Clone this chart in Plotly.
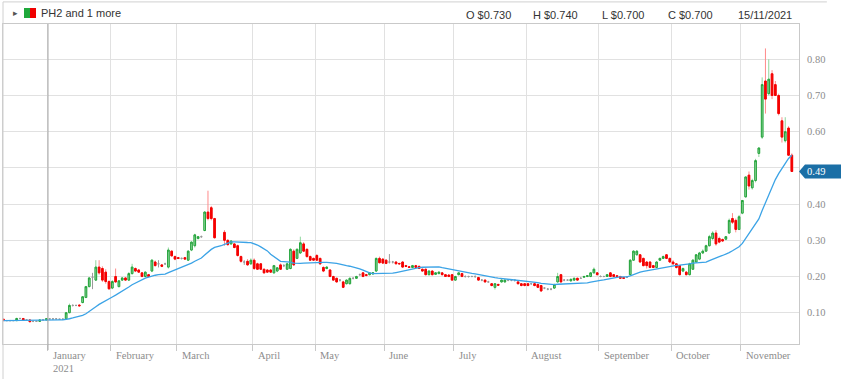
import pandas as pd
import plotly.graph_objects as go

# ---------------- data ----------------
holidays = ["2020-12-25", "2020-12-28", "2021-01-01", "2021-01-26",
            "2021-04-02", "2021-04-05", "2021-04-26", "2021-06-14"]
dates = [d for d in pd.bdate_range("2020-12-10", "2021-11-22")
         if d.strftime("%Y-%m-%d") not in holidays]

opens = [
    .082, .078, .078, .078, .078, .084, .084, .080, .080, .076, .076, .076, .080, .080,  # Dec
    .083, .083, .083, .082, .082, .083, .100, .120, .120, .121, .128, .142, .172, .198, .190, .226, .222, .212, .186,  # Jan
    .168, .200, .172, .190, .196, .190, .208, .222, .218, .210, .200, .205, .215, .240, .235, .232, .235, .226, .270, .255,  # Feb
    .252, .250, .252, .245, .273, .285, .305, .310, .327, .378, .390, .360, None, None, .322, .300, .290, .290, .285, .255, .240, .242, .235,  # Mar
    .245, .235, .235, .220, .218, .218, .210, .215, .232, .230, .220, .222, .270, .250, .265, .290, .275, .255, .250,  # Apr
    .258, .250, .225, .222, .218, .200, .195, .190, .185, .180, .180, .195, .195, .205, .210, .205, .205, .207, .215, .250, .248,  # May
    .245, .240, .240, .240, .236, .240, .230, .227, .225, .230, .228, .220, .220, .205, .215, .206, .208, .210, .205, .204, .205,  # Jun
    .190, .205, .208, .200, .200, .200, .200, .197, .190, .190, .185, .180, .170, .178, .185, .185, .190, .190, .190, .185, .180, .180,  # Jul
    .180, .180, .180, .178, .175, .168, .165, .165, .168, .185, .205, .190, .190, .188, .190, .195, .195, .198, .200, .200, .210, .210,  # Aug
    .200, .200, .200, .210, .205, .202, .200, .197, .198, .205, .245, .260, .260, .250, .240, .240, .230, .225, .245, .250, .260, .250,  # Sep
    .240, .235, .230, .215, .212, .205, .220, .240, .248, .265, .270, .285, .305, .320, .305, .302, .303, .320, .360, .355, .330,  # Oct
    .375, .420, .480, .445, .465, .540, .585, .740, .705, .760, .730, .700, .630, .575, .610, .535,  # Nov
]
highs = [
    .083, .080, .080, .079, .086, .086, .085, .082, .080, .078, .078, .081, .082, .085,
    .084, .083, .084, .083, .084, .102, .125, .123, .122, .123, .146, .174, .198, .210, .245, .245, .228, .220, .190,
    .190, .222, .190, .198, .198, .212, .235, .225, .220, .212, .214, .207, .248, .244, .245, .234, .238, .280, .272, .258,
    .254, .252, .254, .272, .297, .318, .312, .313, .380, .437, .395, .362, None, None, .328, .302, .300, .292, .288, .258, .245, .248, .250,
    .250, .238, .237, .222, .220, .220, .232, .226, .236, .234, .238, .278, .275, .278, .310, .295, .278, .258, .252,
    .262, .252, .228, .228, .220, .202, .197, .193, .188, .192, .197, .198, .202, .208, .212, .207, .212, .212, .252, .255, .250,
    .248, .262, .243, .242, .238, .242, .232, .229, .232, .232, .230, .222, .222, .217, .217, .212, .214, .212, .207, .206, .207,
    .202, .212, .210, .203, .202, .202, .203, .199, .193, .192, .188, .182, .182, .180, .192, .192, .193, .192, .192, .187, .182, .182,
    .182, .182, .182, .180, .177, .170, .168, .167, .180, .210, .207, .193, .192, .195, .197, .197, .198, .202, .204, .212, .225, .212,
    .203, .202, .207, .212, .207, .204, .202, .199, .200, .248, .272, .272, .262, .252, .242, .242, .232, .242, .252, .258, .262, .252,
    .245, .237, .232, .225, .215, .238, .248, .262, .268, .275, .288, .315, .325, .328, .310, .305, .312, .360, .375, .360, .370,
    .410, .475, .490, .470, .525, .555, .750, .830, .800, .770, .740, .705, .640, .640, .615, .540,
]
lows = [
    .078, .077, .077, .077, .078, .082, .080, .079, .074, .074, .075, .076, .079, .079,
    .081, .081, .082, .080, .081, .082, .099, .117, .118, .118, .126, .140, .170, .165, .188, .205, .185, .180, .163,
    .165, .182, .170, .188, .188, .188, .205, .212, .210, .198, .198, .198, .212, .228, .225, .226, .232, .222, .255, .245,
    .248, .247, .246, .243, .270, .280, .302, .307, .325, .355, .355, .305, None, None, .285, .285, .288, .278, .255, .238, .232, .230, .232,
    .218, .218, .218, .208, .210, .210, .208, .212, .218, .226, .218, .220, .230, .248, .262, .268, .252, .243, .243,
    .243, .232, .212, .220, .198, .188, .183, .186, .168, .178, .178, .192, .193, .202, .198, .200, .203, .205, .213, .236, .235,
    .234, .236, .236, .234, .233, .224, .226, .224, .223, .224, .221, .213, .203, .203, .203, .204, .206, .203, .199, .198, .188,
    .188, .203, .198, .197, .197, .198, .196, .188, .187, .183, .183, .173, .164, .174, .183, .183, .187, .187, .186, .178, .173, .173,
    .173, .177, .173, .168, .158, .165, .162, .162, .166, .183, .183, .187, .188, .186, .188, .188, .193, .196, .198, .198, .208, .203,
    .198, .198, .199, .198, .198, .198, .193, .193, .196, .203, .243, .258, .238, .228, .222, .223, .223, .223, .243, .248, .248, .238,
    .232, .222, .203, .212, .203, .203, .218, .238, .245, .262, .268, .283, .300, .285, .292, .296, .300, .318, .345, .322, .328,
    .372, .418, .440, .440, .460, .530, .580, .650, .700, .690, .700, .645, .570, .570, .535, .490,
]
closes = [
    .078, .078, .078, .078, .084, .084, .080, .080, .075, .076, .076, .080, .080, .083,
    .083, .083, .083, .082, .082, .100, .120, .120, .120, .119, .144, .172, .196, .198, .226, .210, .190, .186, .166,
    .186, .185, .188, .196, .190, .208, .226, .215, .212, .200, .212, .200, .245, .230, .235, .228, .235, .273, .257, .248,
    .250, .250, .248, .270, .295, .315, .310, .310, .378, .360, .360, .307, None, None, .300, .288, .298, .280, .258, .242, .240, .232, .245,
    .222, .220, .220, .210, .212, .212, .230, .224, .220, .230, .235, .275, .232, .275, .293, .270, .255, .245, .245,
    .245, .235, .215, .226, .200, .190, .185, .190, .170, .190, .195, .195, .200, .205, .200, .203, .210, .210, .250, .238, .237,
    .236, .240, .240, .235, .235, .226, .228, .225, .230, .225, .222, .215, .205, .215, .205, .210, .212, .205, .200, .200, .190,
    .200, .210, .200, .200, .200, .200, .200, .190, .190, .185, .185, .175, .180, .176, .190, .190, .190, .190, .190, .180, .175, .175,
    .175, .180, .175, .170, .160, .168, .165, .165, .178, .200, .185, .190, .190, .192, .195, .190, .195, .200, .202, .210, .220, .205,
    .200, .200, .205, .200, .200, .200, .195, .195, .198, .245, .270, .270, .240, .230, .230, .225, .225, .240, .250, .255, .250, .240,
    .235, .225, .205, .222, .205, .235, .245, .260, .265, .270, .285, .310, .320, .290, .295, .298, .310, .355, .350, .330, .365,
    .410, .475, .450, .465, .520, .555, .730, .690, .745, .700, .700, .650, .585, .600, .535, .490,
]

month_names = ["January", "February", "March", "April", "May", "June", "July",
               "August", "September", "October", "November"]
month_keys = ["2021-01", "2021-02", "2021-03", "2021-04", "2021-05", "2021-06",
              "2021-07", "2021-08", "2021-09", "2021-10", "2021-11"]
y_ticks = [0.10, 0.20, 0.30, 0.40, 0.50, 0.60, 0.70, 0.80]
header_fields = ["O $0.730", "H $0.740", "L $0.700", "C $0.700", "15/11/2021"]
ma_window = 20

# ---------------- derived ----------------
n = len(dates)
idx = list(range(n))
date_txt = [d.strftime("%d/%m/%Y") for d in dates]
ma = pd.Series([c if c is not None else float("nan") for c in closes]).rolling(ma_window, min_periods=1).mean()

valid = [i for i in idx if opens[i] is not None]
colored = [i for i in valid if opens[i] != closes[i]]
doji = [i for i in valid if opens[i] == closes[i]]

def pick(arr, sel):
    return [arr[i] for i in sel]

month_pos = []
for key in month_keys:
    first = next(i for i, d in enumerate(dates) if d.strftime("%Y-%m") == key)
    month_pos.append(first - 0.5)

last = closes[-1]
# tick labels that sit under the last-price marker are hidden, as in the reference
y_ticktext = ["" if abs(v - last) < 0.03 else f"{v:.2f}" for v in y_ticks]

GREEN = "#24a33b"
GREEN_FILL = "#9fdcab"
GREEN_WICK = "#8fd69c"
RED = "#f40000"
RED_WICK = "#ff8a8a"
GREY = "#9a9a9a"
GRID = "#e1e1e1"
AXIS = "#c9c9c9"
SERIF = "Liberation Serif"
SANS = "Liberation Sans"

fig = go.Figure()

# wicks (lighter colours)
fig.add_trace(go.Candlestick(
    x=pick(idx, colored), open=pick(opens, colored), high=pick(highs, colored),
    low=pick(lows, colored), close=pick(closes, colored),
    increasing=dict(line=dict(color=GREEN_WICK, width=1), fillcolor=GREEN_WICK),
    decreasing=dict(line=dict(color=RED_WICK, width=1), fillcolor=RED_WICK),
    whiskerwidth=0, hoverinfo="skip", showlegend=False))

# bodies
body_hi = [max(opens[i], closes[i]) for i in colored]
body_lo = [min(opens[i], closes[i]) for i in colored]
fig.add_trace(go.Candlestick(
    x=pick(idx, colored), open=pick(opens, colored), high=body_hi,
    low=body_lo, close=pick(closes, colored),
    increasing=dict(line=dict(color=GREEN, width=1), fillcolor=GREEN_FILL),
    decreasing=dict(line=dict(color=RED, width=1), fillcolor=RED),
    whiskerwidth=0, text=pick(date_txt, colored), showlegend=False))

# unchanged days
fig.add_trace(go.Candlestick(
    x=pick(idx, doji), open=pick(opens, doji), high=pick(highs, doji),
    low=pick(lows, doji), close=pick(closes, doji),
    increasing=dict(line=dict(color=GREY, width=1), fillcolor=GREY),
    decreasing=dict(line=dict(color=GREY, width=1), fillcolor=GREY),
    whiskerwidth=0, text=pick(date_txt, doji), showlegend=False))

# moving average
fig.add_trace(go.Scatter(x=idx, y=ma, mode="lines",
                         line=dict(color="#3ba3e6", width=1.3),
                         showlegend=False, hoverinfo="skip"))

annotations = []
shapes = []

# month labels
for name, pos in zip(month_names, month_pos):
    annotations.append(dict(x=pos, xref="x", y=0, yref="paper", text=name,
                            showarrow=False, xanchor="left", yanchor="top",
                            xshift=3, yshift=-4,
                            font=dict(family=SERIF, size=10.5, color="#8c8c8c")))
annotations.append(dict(x=month_pos[0], xref="x", y=0, yref="paper", text="2021",
                        showarrow=False, xanchor="left", yanchor="top",
                        xshift=3, yshift=-17,
                        font=dict(family=SERIF, size=10.5, color="#8c8c8c")))

# year boundary line
shapes.append(dict(type="line", xref="x", yref="paper", x0=month_pos[0], x1=month_pos[0],
                   y0=-0.019, y1=1, line=dict(color="#a6a6a6", width=1)))

# outer frame
shapes.append(dict(type="line", xref="paper", yref="paper", x0=0, x1=1.035,
                   y0=1.069, y1=1.069, line=dict(color="#d0d0d0", width=1)))
shapes.append(dict(type="line", xref="paper", yref="paper", x0=0, x1=0,
                   y0=-0.11, y1=1.069, line=dict(color="#d0d0d0", width=1)))

# last price marker
shapes.append(dict(type="path", xref="paper", yref="y", xsizemode="pixel", ysizemode="pixel",
                   xanchor=1, yanchor=last,
                   path="M 0,0 L 6,7 L 42,7 L 42,-7 L 6,-7 Z",
                   fillcolor="#1b6fa6", line=dict(width=0)))
annotations.append(dict(x=1, xref="paper", y=last, yref="y", text=f"{last:.2f}",
                        showarrow=False, xanchor="left", yanchor="middle", xshift=6,
                        font=dict(family=SERIF, size=10.5, color="white")))

# header
annotations.append(dict(x=0, xref="paper", y=1, yref="paper", text="\u25B8",
                        showarrow=False, xanchor="left", yanchor="middle",
                        xshift=8, yshift=11, font=dict(family=SANS, size=9, color="#555")))
shapes.append(dict(type="rect", xref="paper", yref="paper", xsizemode="pixel", ysizemode="pixel",
                   xanchor=0, yanchor=1, x0=21, x1=27, y0=6, y1=16,
                   fillcolor="#1fa83b", line=dict(width=0)))
shapes.append(dict(type="rect", xref="paper", yref="paper", xsizemode="pixel", ysizemode="pixel",
                   xanchor=0, yanchor=1, x0=27, x1=33, y0=6, y1=16,
                   fillcolor="#f00000", line=dict(width=0)))
annotations.append(dict(x=0, xref="paper", y=1, yref="paper", text="PH2 and 1 more",
                        showarrow=False, xanchor="left", yanchor="middle",
                        xshift=36, yshift=11, font=dict(family=SANS, size=11, color="#333")))
header_x = [463.5, 531, 599.5, 666, 736]
for txt, px in zip(header_fields, header_x):
    annotations.append(dict(x=(px - 3) / 796, xref="paper", y=1, yref="paper", text=txt,
                            showarrow=False, xanchor="left", yanchor="middle",
                            yshift=9, font=dict(family=SANS, size=11, color="#333")))

fig.update_layout(
    width=841, height=379,
    margin=dict(l=3, r=42, t=24, b=35),
    paper_bgcolor="white", plot_bgcolor="white",
    showlegend=False,
    annotations=annotations, shapes=shapes,
    xaxis=dict(range=[-0.14, 241.17], rangeslider=dict(visible=False),
               tickmode="array", tickvals=month_pos, ticktext=[""] * len(month_pos),
               showticklabels=False, ticks="outside", ticklen=6, tickcolor=AXIS,
               showgrid=True, gridcolor=GRID, gridwidth=1,
               showline=True, linecolor=AXIS, mirror=True, zeroline=False),
    yaxis=dict(side="right", range=[0.0135, 0.8975],
               tickmode="array", tickvals=y_ticks, ticktext=y_ticktext,
               ticks="", ticklabelstandoff=5,
               tickfont=dict(family=SERIF, size=10.5, color="#8c8c8c"),
               showgrid=True, gridcolor=GRID, gridwidth=1,
               showline=True, linecolor=AXIS, mirror=True, zeroline=False),
)

fig.write_html("out.html")
